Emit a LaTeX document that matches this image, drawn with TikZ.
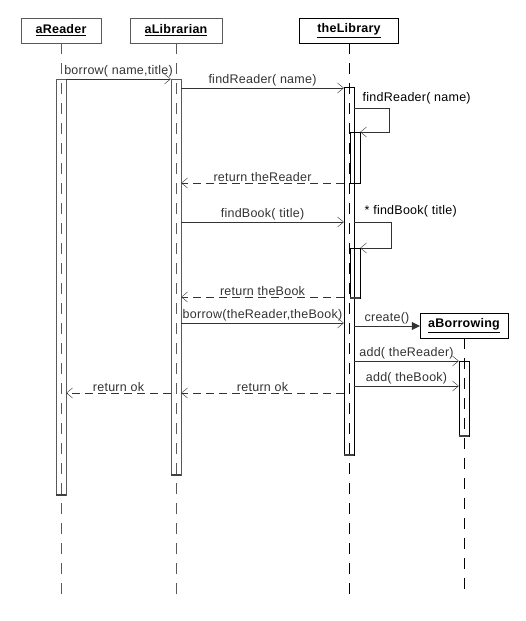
\documentclass[tikz,border=0pt]{standalone}
\usepackage{fontspec}
\setmainfont{Liberation Sans}[LetterSpace=2]
\usetikzlibrary{arrows.meta}
\begin{document}
\begin{tikzpicture}[x=1pt,y=-1pt,font=\fontsize{12.5}{14}\selectfont,
  >={Straight Barb[length=6pt,width=10pt]},
  obj/.style={draw,minimum height=25pt,inner sep=0pt,font=\fontsize{12.5}{14}\selectfont\bfseries},
  act/.style={draw,minimum width=10pt,inner sep=0pt},
  life/.style={dash pattern=on 11pt off 9pt},
  msg/.style={->,black!80},
  ret/.style={->,black!80,dash pattern=on 8pt off 5pt},
  lbl/.style={midway,above=0pt,inner sep=1.5pt}]
\useasboundingbox (0,0) rectangle (525,621);
% objects
\node[obj,draw=black!65,minimum width=80pt] (reader) at (61,30.5) {\underline{aReader}};
\node[obj,draw=black!65,minimum width=92pt] (librarian) at (176,30.5) {\underline{aLibrarian}};
\node[obj,minimum width=99pt] (library) at (349,30.5) {\underline{theLibrary}};
\node[obj,minimum width=88pt] (borrowing) at (464,325.5) {\underline{aBorrowing}};
% lifelines
\coordinate (endR) at (61,594); \coordinate (endL) at (176,594);
\coordinate (endB) at (349,594); \coordinate (endW) at (464,594);
\draw[life,black!65] (reader.south)--(endR);
\draw[life,black!65] (librarian.south)--(endL);
\draw[life] (library.south)--(endB);
\draw[life] (borrowing.south)--(endW);
% activations
\node[act,draw=black!65,minimum height=416pt] (actR) at (61,287) {};
\node[act,draw=black!65,minimum height=396pt] (actL) at (176,277) {};
\node[act,minimum height=368pt] (actB) at (349,271) {};
\node[act,minimum height=51pt] (nest1) at (355,157.5) {};
\node[act,minimum height=50pt] (nest2) at (355,273) {};
\node[act,minimum height=75pt] (actW) at (464,398.5) {};
\foreach \a in {actR,actL,actB,nest2,actW}
  \draw[line width=1.6pt,black!75] (\a.south west)--(\a.south east);
% message heights
\coordinate (m1) at (0,79); \coordinate (m2) at (0,88);
\coordinate (s1) at (0,108); \coordinate (s1b) at (0,132);
\coordinate (m3) at (0,183); \coordinate (m4) at (0,222);
\coordinate (s2b) at (0,248); \coordinate (m5) at (0,297);
\coordinate (m6) at (0,323); \coordinate (m7) at (0,326);
\coordinate (m8) at (0,361); \coordinate (m9) at (0,386);
\coordinate (m10) at (0,393);
% messages
\draw[msg] (actR.east |- m1)--(actL.west |- m1) node[lbl] (t1) {borrow( name,title)};
\draw[msg] (actL.east |- m2)--(actB.west |- m2) node[lbl] (t2) {findReader( name)};
\draw[msg] (actB.east |- s1)--++(35,0) |- (nest1.east |- s1b);
\node[anchor=south west,inner sep=1.5pt] (t3) at (361,106) {findReader( name)};
\draw[ret] (actB.west |- m3)--(actL.east |- m3) node[lbl] (t4) {return theReader};
\draw[msg] (actL.east |- m4)--(actB.west |- m4) node[lbl] (t5) {findBook( title)};
\draw[msg] (actB.east |- m4)--++(37,0) |- (nest2.east |- s2b);
\node[anchor=south west,inner sep=1.5pt] (t6) at (363,219) {* findBook( title)};
\draw[ret] (actB.west |- m5)--(actL.east |- m5) node[lbl] (t7) {return theBook};
\draw[msg] (actL.east |- m6)--(actB.west |- m6) node[lbl] (t8) {borrow(theReader,theBook)};
\draw[-{Triangle[length=8pt,width=8pt]},black!80] (actB.east |- m7)--(borrowing.west |- m7) node[lbl] (t9) {create()};
\draw[msg] (actB.east |- m8)--(actW.west |- m8) node[lbl] (t10) {add( theReader)};
\draw[msg] (actB.east |- m9)--(actW.west |- m9) node[lbl] (t11) {add( theBook)};
\draw[ret] (actB.west |- m10)--(actL.east |- m10) node[lbl] (t12) {return ok};
\draw[ret] (actL.west |- m10)--(actR.east |- m10) node[lbl] (t13) {return ok};
\end{tikzpicture}
\end{document}
